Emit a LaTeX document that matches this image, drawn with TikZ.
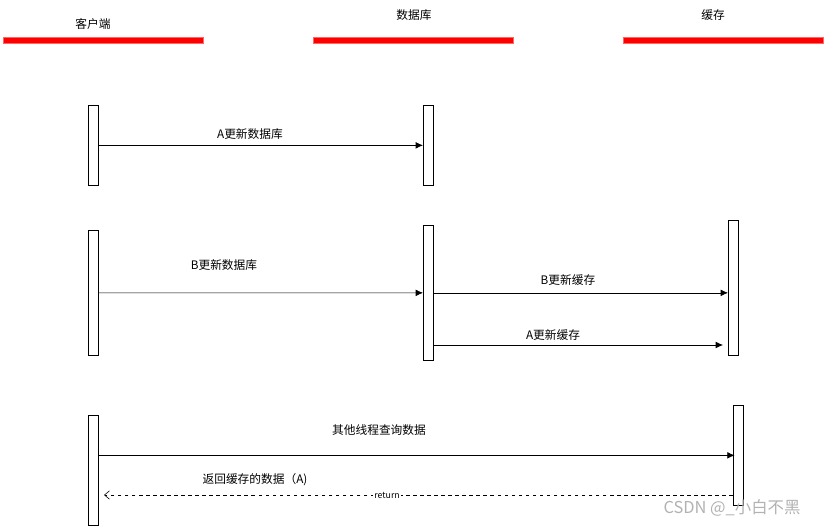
\documentclass[tikz,border=0pt]{standalone}
\usepackage{fontspec}
\setmainfont{Noto Sans CJK SC}
\usetikzlibrary{arrows.meta, positioning}

\begin{document}
\begin{tikzpicture}[x=0.03cm, y=-0.03cm,
    lane/.style={fill=red, draw=red!60, line width=0.3pt, minimum width=6cm, minimum height=0.18cm, inner sep=0, anchor=north west},
    act/.style={draw, fill=white, line width=0.6pt, minimum width=0.3cm, inner sep=0, anchor=north west},
    msg/.style={-{Latex[length=0.22cm, width=0.2cm]}, line width=0.6pt},
    ret/.style={-{Straight Barb[length=0.15cm, width=0.25cm]}, dashed, line width=0.5pt},
    lbl/.style={font=\fontsize{10}{12}\selectfont, inner sep=1pt}
]
    \useasboundingbox (0,0) rectangle (826,526);
    % lanes
    \node[lane] (lcli) at (3,37) {};
    \node[lane] (ldb) at (313,37) {};
    \node[lane] (lcache) at (623,37) {};
    \node[lbl] (tcli) at (93,24) {客户端};
    \node[lbl] (tdb) at (414,15) {数据库};
    \node[lbl] (tcache) at (713,15) {缓存};

    % A updates db
    \node[act, minimum height=2.4cm] (cli1) at (88,105) {};
    \node[act, minimum height=2.4cm] (db1) at (423,105) {};
    \draw[msg] (cli1.east) -- (db1.west);
    \node[lbl] (m1) at (250,134) {A更新数据库};

    % B updates db and cache, then A updates cache
    \node[act, minimum height=3.75cm] (cli2) at (88,230) {};
    \node[act, minimum height=4.05cm] (db2) at (423,225) {};
    \node[act, minimum height=4.05cm] (cache2) at (728,220) {};
    \coordinate (late) at (723,345);
    \draw[msg] (cli2.east) -- (db2.west);
    \node[lbl] (m2) at (224,265) {B更新数据库};
    \draw[msg] (db2.east) -- (db2.east -| cache2.west);
    \node[lbl] (m3) at (568,280) {B更新缓存};
    \draw[msg] (late -| db2.east) -- (late);
    \node[lbl] (m4) at (553,335) {A更新缓存};

    % other thread reads
    \node[act, minimum height=3.3cm] (cli3) at (88,415) {};
    \node[act, minimum height=3cm] (cache3) at (733,405) {};
    \coordinate (back) at (104,495);
    \draw[msg] (cache3.west -| cli3.east) -- ([xshift=0.05cm]cache3.west);
    \node[lbl] (m5) at (379,430) {其他线程查询数据};
    \draw[ret] (back -| cache3.west) -- (back)
        node[pos=0.55, fill=white, inner sep=1pt, font=\fontsize{7.5}{9}\selectfont] {return};
    \node[lbl] (m6) at (255,480) {返回缓存的数据（A)};

    \node[text=gray!60, font=\fontsize{14}{16}\selectfont] (mark) at (732,508) {CSDN @\_小白不黑};
\end{tikzpicture}
\end{document}
